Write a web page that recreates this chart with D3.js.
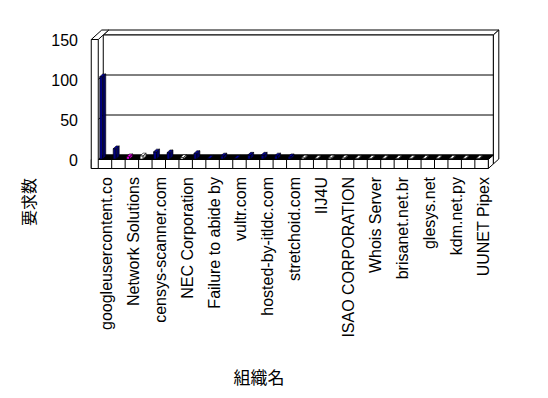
<!DOCTYPE html>
<html><head><meta charset="utf-8">
<script src="https://cdn.jsdelivr.net/npm/d3@7"></script>
<style>html,body{margin:0;padding:0;background:#fff;}svg{display:block;}</style>
</head><body>
<svg id="c" width="548" height="398"></svg>
<script>
// ---- data ----
const categories = ["googleusercontent.co","","Network Solutions","","censys-scanner.com","","NEC Corporation","","Failure to abide by","","vultr.com","","hosted-by-itldc.com","","stretchoid.com","","IIJ4U","","ISAO CORPORATION","","Whois Server","","brisanet.net.br","","glesys.net","","kdm.net.py","","UUNET Pipex"];
const values = [103,13,3,4,9,8,2,7,1,4,1,5,5,4,3,1.5,1,1.5,1.5,1,1,1,1,1,1,1,1,1,1];
const barColors = ["#000080","#000080","#ff00ff","#ffffff","#000080","#000080","#ffffff","#000080","#000080","#000080","#000080","#000080","#000080","#000080","#000080","#ffffff","#ffffff","#ffffff","#ffffff","#ffffff","#ffffff","#ffffff","#ffffff","#ffffff","#ffffff","#ffffff","#ffffff","#ffffff","#ffffff"];
const yTicks = [0,50,100,150];
const yTitle = "要求数";
const xTitle = "組織名";

// ---- geometry ----
const svg = d3.select("#c");
const FX0 = 98.25, FX1 = 488.3;
const x = d3.scaleBand().domain(d3.range(categories.length)).range([FX0, FX1]).paddingInner(0).paddingOuter(0);
const y = d3.scaleLinear().domain([0,150]).range([159.5, 39.5]);
const D = [5, -4.5];      // floor depth
const T = [5.5, -5];      // back wall thickness
const WL = 7;             // left wall thickness
const FT = 9;             // floor thickness
const pt = (px, py, f) => [px + D[0]*f, py + D[1]*f];
const poly = (pts) => "M" + pts.map(p => p[0].toFixed(2) + "," + p[1].toFixed(2)).join("L") + "Z";
const g = svg.append("g");
function path(d, fill){ return g.append("path").attr("d", d).attr("fill", fill).attr("stroke","#000").attr("stroke-width",1).attr("stroke-linejoin","round"); }

const y0 = y(0), yTop = y(150);
const bx0 = FX0 + D[0], bx1 = FX1 + D[0];
// back wall: top face and right side face
path(poly([[bx0, yTop + D[1]], [bx1, yTop + D[1]], [bx1 + T[0], yTop + D[1] + T[1]], [bx0 + T[0], yTop + D[1] + T[1]]]), "#fff");
path(poly([[bx1, yTop + D[1]], [bx1 + T[0], yTop + D[1] + T[1]], [bx1 + T[0], y0 + D[1] + T[1] + FT], [bx1, y0 + D[1] + FT]]), "#fff");
// back wall inner face
path(poly([[bx0, yTop + D[1]], [bx1, yTop + D[1]], [bx1, y0 + D[1]], [bx0, y0 + D[1]]]), "#fff");
// gridlines on back wall and left wall inner face
yTicks.filter(t => t > 0 && t < 150).forEach(t => {
  g.append("line").attr("x1", FX0).attr("y1", y(t)).attr("x2", bx0).attr("y2", y(t) + D[1]).attr("stroke","#000");
  g.append("line").attr("x1", bx0).attr("y1", y(t) + D[1]).attr("x2", bx1).attr("y2", y(t) + D[1]).attr("stroke","#000");
});
// floor right side
path(poly([[FX1, y0], [bx1, y0 + D[1]], [bx1, y0 + D[1] + FT], [FX1, y0 + FT]]), "#fff");
// floor top
path(poly([[FX0, y0], [FX1, y0], [bx1, y0 + D[1]], [bx0, y0 + D[1]]]), "#000");
// floor front face with category cells
path(poly([[FX0 - WL, y0], [FX1, y0], [FX1, y0 + FT], [FX0 - WL, y0 + FT]]), "#fff");
categories.forEach((c, i) => {
  if (i > 0) g.append("line").attr("x1", x(i)).attr("x2", x(i)).attr("y1", y0).attr("y2", y0 + FT).attr("stroke","#000");
});
// left wall: top and front face
path(poly([[FX0 - WL, yTop], [FX0, yTop], [FX0 + D[0] + T[0], yTop + D[1] + T[1]], [FX0 - WL + D[0] + T[0], yTop + D[1] + T[1]]]), "#fff");
path(poly([[FX0 - WL, yTop], [FX0, yTop], [FX0, y0 + FT], [FX0 - WL, y0 + FT]]), "#fff");

// bars
const bw = 3, bOff = 1, dA = 0.1, dB = 0.7;
values.forEach((v, i) => {
  const xl = x(i) + bOff, xr = xl + bw;
  const col = d3.color(barColors[i]);
  const side = col.darker(0.8), top = col.brighter(0.6);
  const fa = pt(0, 0, dA), fb = pt(0, 0, dB);
  const Y0 = y0, Y1 = y(v);
  const front = [[xl + fa[0], Y0 + fa[1]], [xr + fa[0], Y0 + fa[1]], [xr + fa[0], Y1 + fa[1]], [xl + fa[0], Y1 + fa[1]]];
  const sideP = [[xr + fa[0], Y0 + fa[1]], [xr + fb[0], Y0 + fb[1]], [xr + fb[0], Y1 + fb[1]], [xr + fa[0], Y1 + fa[1]]];
  const topP = [[xl + fa[0], Y1 + fa[1]], [xr + fa[0], Y1 + fa[1]], [xr + fb[0], Y1 + fb[1]], [xl + fb[0], Y1 + fb[1]]];
  g.append("path").attr("d", poly(front)).attr("fill", col).attr("stroke","#000").attr("stroke-width",0.6);
  g.append("path").attr("d", poly(sideP)).attr("fill", side).attr("stroke","#000").attr("stroke-width",0.6);
  g.append("path").attr("d", poly(topP)).attr("fill", top).attr("stroke","#000").attr("stroke-width",0.6);
});

// y axis labels
const font = "'Liberation Sans', Arial, sans-serif";
yTicks.forEach(t => {
  svg.append("text").attr("x", 78).attr("y", y(t) + 6).attr("text-anchor","end")
    .attr("font-family", font).attr("font-size", 16).text(t);
});
// x labels
categories.forEach((c, i) => {
  if (!c) return;
  const cx = x(i) + x.bandwidth()/2;
  svg.append("text").attr("transform", `translate(${cx + 7},177) rotate(-90)`).attr("text-anchor","end")
    .attr("font-family", font).attr("font-size", 16).text(c);
});
// titles
svg.append("text").attr("transform", "translate(35,202) rotate(-90)").attr("text-anchor","middle")
  .attr("font-family","'Noto Sans CJK JP', sans-serif").attr("font-size", 16).text(yTitle);
svg.append("text").attr("x", 259).attr("y", 384).attr("text-anchor","middle")
  .attr("font-family","'Noto Sans CJK JP', sans-serif").attr("font-size", 17).text(xTitle);
</script>
</body></html>
